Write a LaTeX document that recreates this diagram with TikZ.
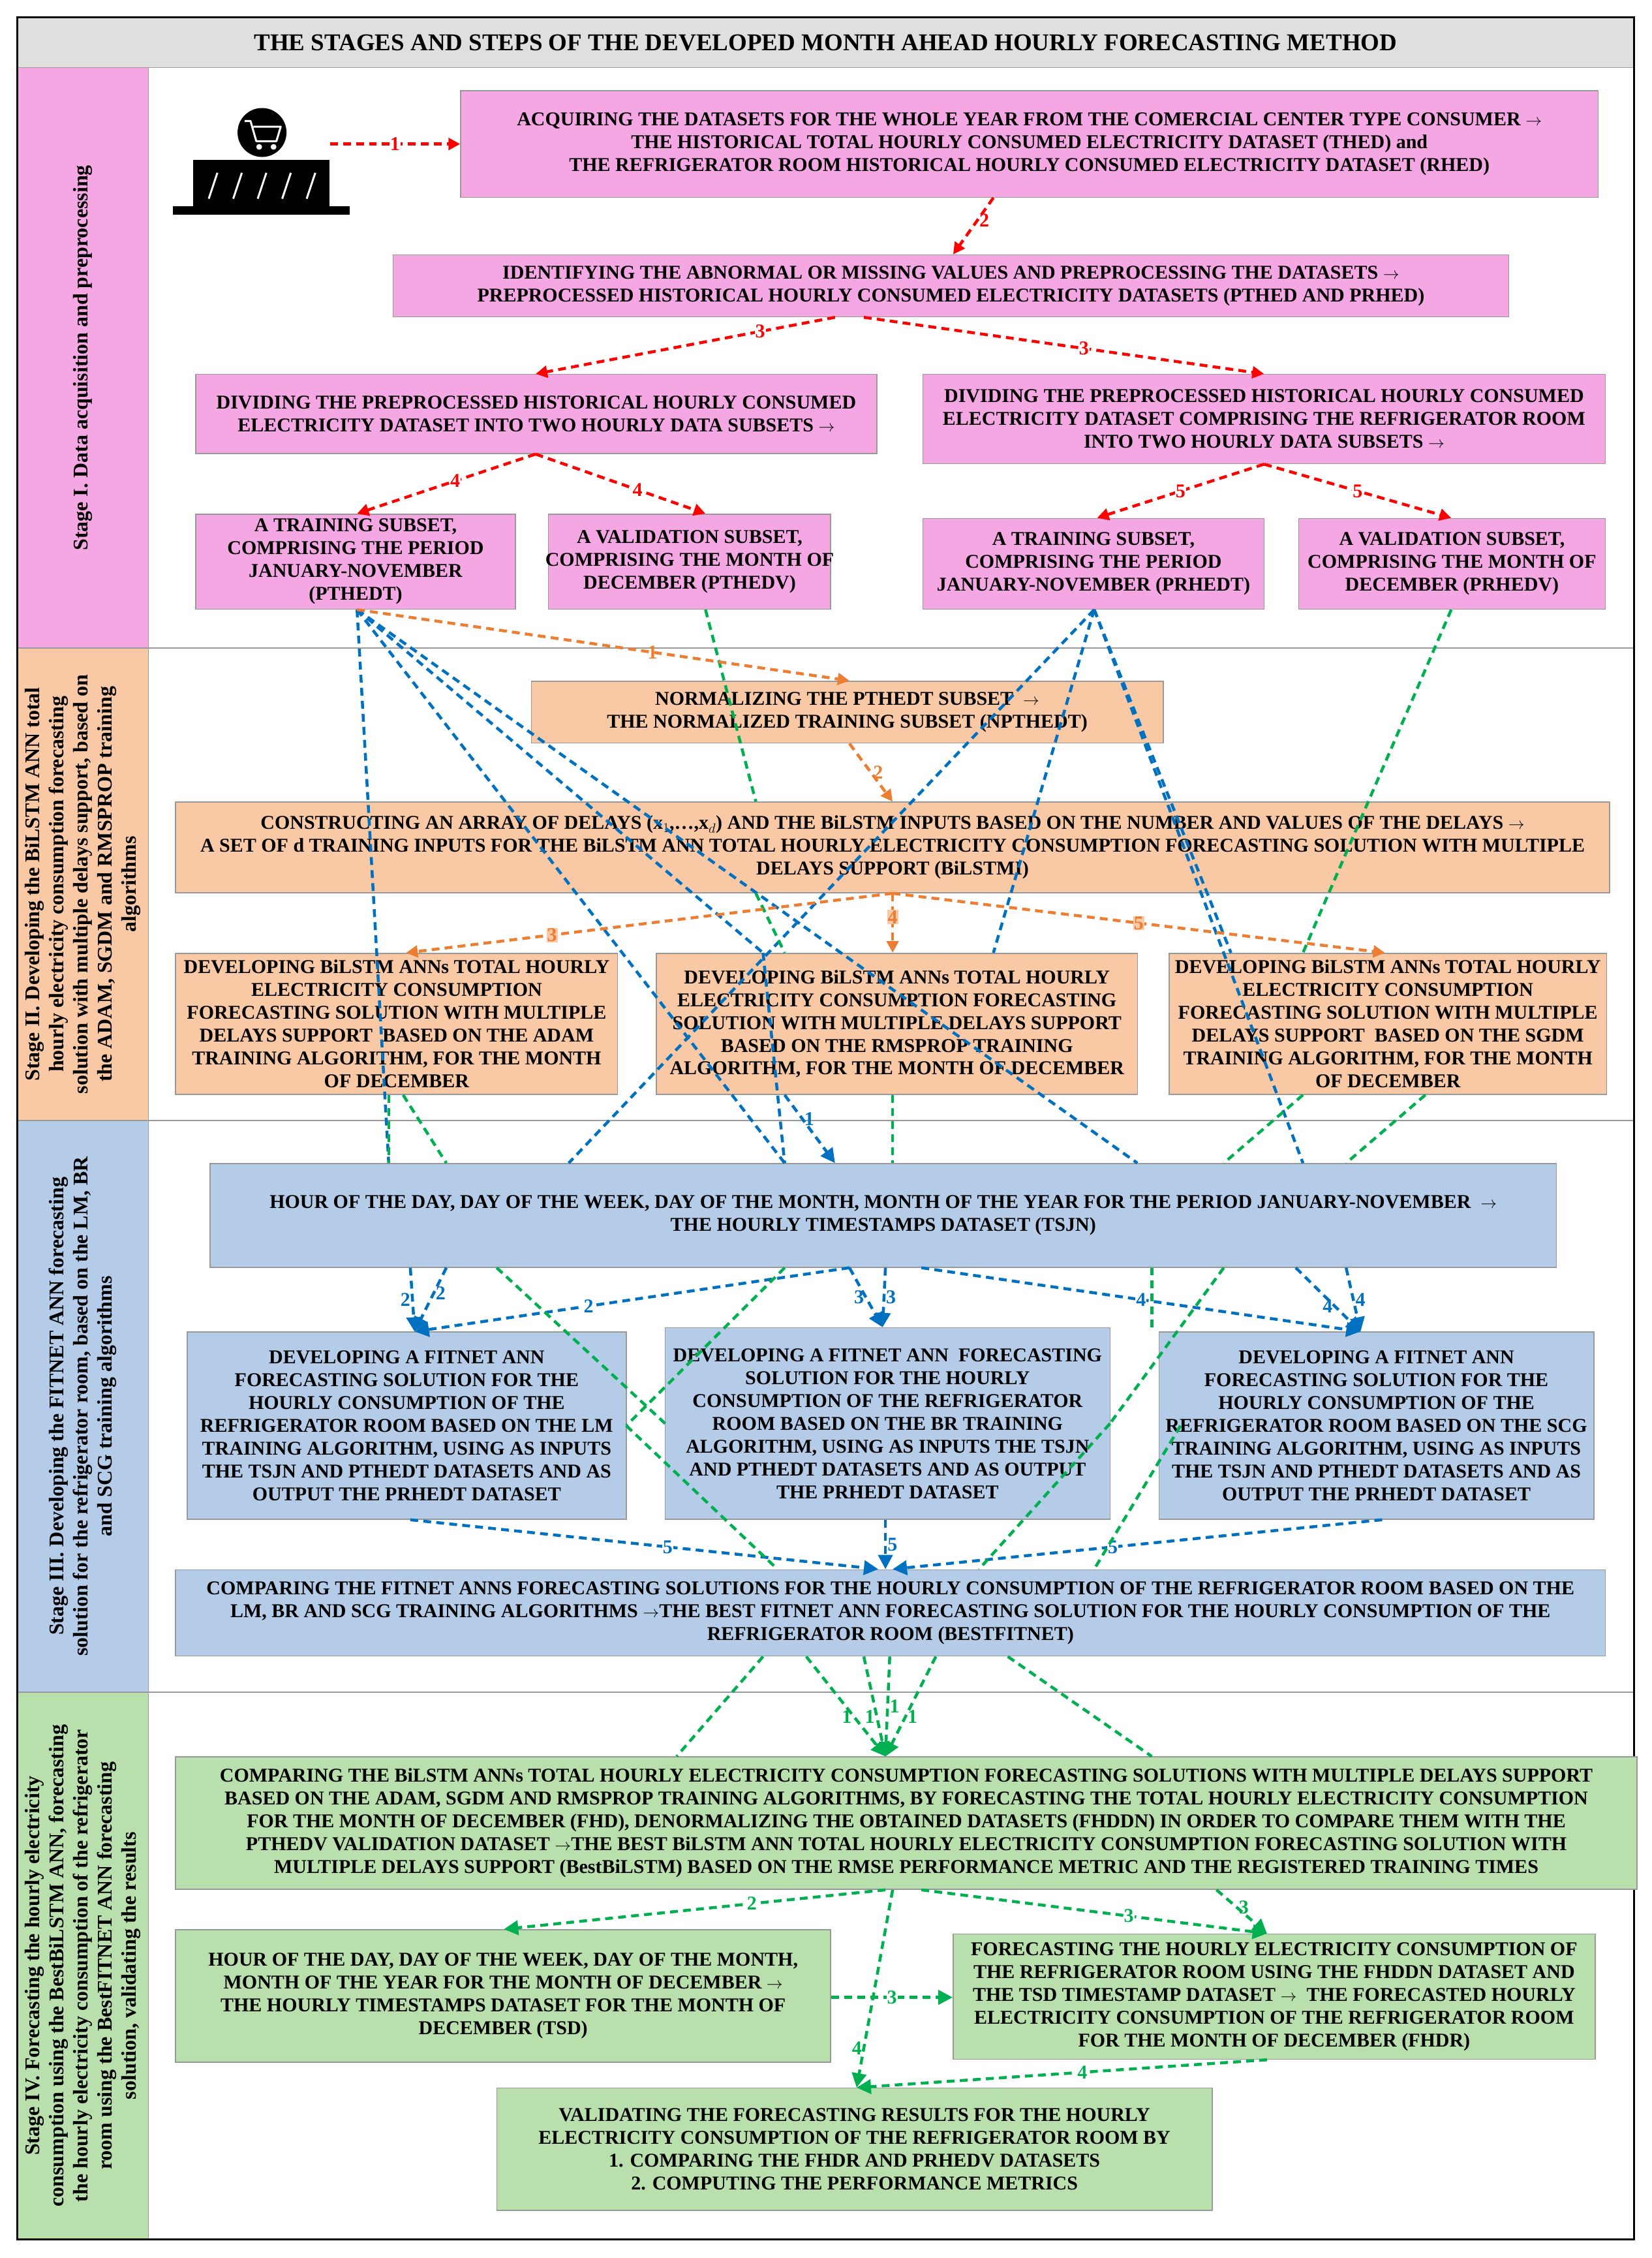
\documentclass[tikz,border=0pt]{standalone}
\usepackage{fontspec}
\setmainfont{Liberation Serif}
\usetikzlibrary{fit,arrows.meta,calc}
\definecolor{pinkc}{HTML}{F4A7E3}
\definecolor{orangec}{HTML}{F9C8A5}
\definecolor{bluec}{HTML}{B4CCE8}
\definecolor{greenc}{HTML}{B9DFAC}
\definecolor{redl}{HTML}{FF0000}
\definecolor{orangel}{HTML}{ED7D31}
\definecolor{bluel}{HTML}{0070C0}
\definecolor{greenl}{HTML}{00B050}
\newcommand{\ar}{$\rightarrow$}
\begin{document}
\begin{tikzpicture}[x=2.2075pt,y=-2.2075pt,
 box/.style={draw=gray!80,line width=1.5pt,inner sep=0pt},
 txt/.style={font=\fontsize{30}{35}\selectfont\bfseries,align=center,inner sep=0pt},
 side/.style={font=\fontsize{32}{37}\selectfont\bfseries,align=center,rotate=90},
 ln/.style={line width=4.5pt,dash pattern=on 12pt off 8pt},
 rl/.style={ln,redl,-{Triangle[length=18pt,width=18pt]}},
 ol/.style={ln,orangel,-{Triangle[length=18pt,width=18pt]}},
 bl/.style={ln,bluel},
 bla/.style={ln,bluel,-{Triangle[length=22pt,width=22pt]}},
 gl/.style={ln,greenl},
 gla/.style={ln,greenl,-{Triangle[length=22pt,width=22pt]}},
 lb/.style={font=\fontsize{30}{30}\selectfont\bfseries,inner sep=1pt}]
\useasboundingbox (0,0) rectangle (1147,1568);
% frame and bands
\node[box,fill=gray!25,fit={(12,12)(1135,47)}] (title) {};
\node[txt,font=\fontsize{37}{40}\selectfont\bfseries] (titlet) at (title) {THE STAGES AND STEPS OF THE DEVELOPED MONTH AHEAD HOURLY FORECASTING METHOD};
\node[box,fill=pinkc,fit={(12,47)(103,450)}] (s1) {};
\node[box,fill=orangec,fit={(12,450)(103,778)}] (s2) {};
\node[box,fill=bluec,fit={(12,778)(103,1175)}] (s3) {};
\node[box,fill=greenc,fit={(12,1175)(103,1555)}] (s4) {};
\node[box,fit={(103,47)(1135,450)}] (r1) {};
\node[box,fit={(103,450)(1135,778)}] (r2) {};
\node[box,fit={(103,778)(1135,1175)}] (r3) {};
\node[box,fit={(103,1175)(1135,1555)}] (r4) {};
\draw[line width=3pt] (12,12) rectangle (1135,1555);
\node[side] (s1t) at (s1) {Stage I. Data acquisition and preprocessing};
\node[side] (s2t) at (s2) {Stage II. Developing the BiLSTM ANN total\\ hourly electricity consumption forecasting\\ solution with multiple delays support, based on\\ the ADAM, SGDM and RMSPROP training\\ algorithms};
\node[side] (s3t) at (s3) {Stage III. Developing the FITNET ANN forecasting\\ solution for the refrigerator room, based on the LM, BR\\ and SCG training algorithms};
\node[side] (s4t) at (s4) {Stage IV. Forecasting the hourly electricity\\ consumption using the BestBiLSTM ANN, forecasting\\ the hourly electricity consumption of the refrigerator\\ room using the BestFITNET ANN forecasting\\ solution, validating the results};
% icon
\node[fill=black,inner sep=0pt,fit={(120,143)(243,149)}] (ib) {};
\node[fill=black,inner sep=0pt,fit={(134,111)(229,143)}] (ic) {};
\node[fill=black,circle,minimum size=34*2.2075pt,inner sep=0pt] (icart) at (182,92) {};
\foreach \x in {148,165,182,199,216}{\draw[white,line width=3pt] (\x-3,138) -- (\x+3,120);}
\draw[white,line width=3pt,line join=round] (170,84) -- (174,84) -- (178,98) -- (192,98) -- (195,88) -- (176,88);
\fill[white] (180,102) circle (2) (190,102) circle (2);
% Stage I boxes
\node[box,fill=pinkc,fit={(320,63)(1110,137)}] (a1) {};
\node[txt] (a1t) at (a1) {ACQUIRING THE DATASETS FOR THE WHOLE YEAR FROM THE COMERCIAL CENTER TYPE CONSUMER \ar\\ THE HISTORICAL TOTAL HOURLY CONSUMED ELECTRICITY DATASET (THED) and\\ THE REFRIGERATOR ROOM HISTORICAL HOURLY CONSUMED ELECTRICITY DATASET (RHED)};
\node[box,fill=pinkc,fit={(273,177)(1048,220)}] (a2) {};
\node[txt] (a2t) at (a2) {IDENTIFYING THE ABNORMAL OR MISSING VALUES AND PREPROCESSING THE DATASETS \ar\\ PREPROCESSED HISTORICAL HOURLY CONSUMED ELECTRICITY DATASETS (PTHED AND PRHED)};
\node[box,fill=pinkc,fit={(136,260)(609,315)}] (a3) {};
\node[txt] (a3t) at (a3) {DIVIDING THE PREPROCESSED HISTORICAL HOURLY CONSUMED\\ ELECTRICITY DATASET INTO TWO HOURLY DATA SUBSETS \ar};
\node[box,fill=pinkc,fit={(641,260)(1115,322)}] (a4) {};
\node[txt] (a4t) at (a4) {DIVIDING THE PREPROCESSED HISTORICAL HOURLY CONSUMED\\ ELECTRICITY DATASET COMPRISING THE REFRIGERATOR ROOM\\ INTO TWO HOURLY DATA SUBSETS \ar};
\node[box,fill=pinkc,fit={(136,357)(358,423)}] (a5) {};
\node[txt] (a5t) at (a5) {A TRAINING SUBSET,\\ COMPRISING THE PERIOD\\ JANUARY-NOVEMBER\\ (PTHEDT)};
\node[box,fill=pinkc,fit={(381,357)(577,423)}] (a6) {};
\node[txt] (a6t) at (a6) {A VALIDATION SUBSET,\\ COMPRISING THE MONTH OF\\ DECEMBER (PTHEDV)};
\node[box,fill=pinkc,fit={(641,360)(878,423)}] (a7) {};
\node[txt] (a7t) at (a7) {A TRAINING SUBSET,\\ COMPRISING THE PERIOD\\ JANUARY-NOVEMBER (PRHEDT)};
\node[box,fill=pinkc,fit={(902,360)(1115,423)}] (a8) {};
\node[txt] (a8t) at (a8) {A VALIDATION SUBSET,\\ COMPRISING THE MONTH OF\\ DECEMBER (PRHEDV)};
% Stage II boxes
\node[box,fill=orangec,fit={(369,473)(808,516)}] (b1) {};
\node[txt] (b1t) at (b1) {NORMALIZING THE PTHEDT SUBSET \ \ar\\ THE NORMALIZED TRAINING SUBSET (NPTHEDT)};
\node[box,fill=orangec,fit={(122,557)(1118,620)}] (b2) {};
\node[txt] (b2t) at (b2) {CONSTRUCTING AN ARRAY OF DELAYS (x$_{1}$,\dots,x$_{d}$) AND THE BiLSTM INPUTS BASED ON THE NUMBER AND VALUES OF THE DELAYS \ar\\ A SET OF d TRAINING INPUTS FOR THE BiLSTM ANN TOTAL HOURLY ELECTRICITY CONSUMPTION FORECASTING SOLUTION WITH MULTIPLE\\ DELAYS SUPPORT (BiLSTMI)};
\node[box,fill=orangec,fit={(122,662)(429,760)}] (b3) {};
\node[txt] (b3t) at (b3) {DEVELOPING BiLSTM ANNs TOTAL HOURLY\\ ELECTRICITY CONSUMPTION\\ FORECASTING SOLUTION WITH MULTIPLE\\ DELAYS SUPPORT \ BASED ON THE ADAM\\ TRAINING ALGORITHM, FOR THE MONTH\\ OF DECEMBER};
\node[box,fill=orangec,fit={(456,662)(790,760)}] (b4) {};
\node[txt] (b4t) at (b4) {DEVELOPING BiLSTM ANNs TOTAL HOURLY\\ ELECTRICITY CONSUMPTION FORECASTING\\ SOLUTION WITH MULTIPLE DELAYS SUPPORT\\ BASED ON THE RMSPROP TRAINING\\ ALGORITHM, FOR THE MONTH OF DECEMBER};
\node[box,fill=orangec,fit={(812,662)(1116,760)}] (b5) {};
\node[txt] (b5t) at (b5) {DEVELOPING BiLSTM ANNs TOTAL HOURLY\\ ELECTRICITY CONSUMPTION\\ FORECASTING SOLUTION WITH MULTIPLE\\ DELAYS SUPPORT \ BASED ON THE SGDM\\ TRAINING ALGORITHM, FOR THE MONTH\\ OF DECEMBER};
% Stage III boxes
\node[box,fill=bluec,fit={(146,808)(1081,880)}] (c1) {};
\node[txt] (c1t) at (c1) {HOUR OF THE DAY, DAY OF THE WEEK, DAY OF THE MONTH, MONTH OF THE YEAR FOR THE PERIOD JANUARY-NOVEMBER \ \ar\\ THE HOURLY TIMESTAMPS DATASET (TSJN)};
\node[box,fill=bluec,fit={(130,925)(435,1055)}] (c2) {};
\node[txt] (c2t) at (c2) {DEVELOPING A FITNET ANN\\ FORECASTING SOLUTION FOR THE\\ HOURLY CONSUMPTION OF THE\\ REFRIGERATOR ROOM BASED ON THE LM\\ TRAINING ALGORITHM, USING AS INPUTS\\ THE TSJN AND PTHEDT DATASETS AND AS\\ OUTPUT THE PRHEDT DATASET};
\node[box,fill=bluec,fit={(462,922)(771,1055)}] (c3) {};
\node[txt] (c3t) at (c3) {DEVELOPING A FITNET ANN \ FORECASTING\\ SOLUTION FOR THE HOURLY\\ CONSUMPTION OF THE REFRIGERATOR\\ ROOM BASED ON THE BR TRAINING\\ ALGORITHM, USING AS INPUTS THE TSJN\\ AND PTHEDT DATASETS AND AS OUTPUT\\ THE PRHEDT DATASET};
\node[box,fill=bluec,fit={(805,925)(1107,1055)}] (c4) {};
\node[txt] (c4t) at (c4) {DEVELOPING A FITNET ANN\\ FORECASTING SOLUTION FOR THE\\ HOURLY CONSUMPTION OF THE\\ REFRIGERATOR ROOM BASED ON THE SCG\\ TRAINING ALGORITHM, USING AS INPUTS\\ THE TSJN AND PTHEDT DATASETS AND AS\\ OUTPUT THE PRHEDT DATASET};
\node[box,fill=bluec,fit={(122,1090)(1115,1150)}] (c5) {};
\node[txt] (c5t) at (c5) {COMPARING THE FITNET ANNS FORECASTING SOLUTIONS FOR THE HOURLY CONSUMPTION OF THE REFRIGERATOR ROOM BASED ON THE\\ LM, BR AND SCG TRAINING ALGORITHMS \ar THE BEST FITNET ANN FORECASTING SOLUTION FOR THE HOURLY CONSUMPTION OF THE\\ REFRIGERATOR ROOM (BESTFITNET)};
% Stage IV boxes
\node[box,fill=greenc,fit={(122,1220)(1137,1312)}] (d1) {};
\node[txt] (d1t) at (d1) {COMPARING THE BiLSTM ANNs TOTAL HOURLY ELECTRICITY CONSUMPTION FORECASTING SOLUTIONS WITH MULTIPLE DELAYS SUPPORT\\ BASED ON THE ADAM, SGDM AND RMSPROP TRAINING ALGORITHMS, BY FORECASTING THE TOTAL HOURLY ELECTRICITY CONSUMPTION\\ FOR THE MONTH OF DECEMBER (FHD), DENORMALIZING THE OBTAINED DATASETS (FHDDN) IN ORDER TO COMPARE THEM WITH THE\\ PTHEDV VALIDATION DATASET \ar THE BEST BiLSTM ANN TOTAL HOURLY ELECTRICITY CONSUMPTION FORECASTING SOLUTION WITH\\ MULTIPLE DELAYS SUPPORT (BestBiLSTM) BASED ON THE RMSE PERFORMANCE METRIC AND THE REGISTERED TRAINING TIMES};
\node[box,fill=greenc,fit={(122,1340)(577,1432)}] (d2) {};
\node[txt] (d2t) at (d2) {HOUR OF THE DAY, DAY OF THE WEEK, DAY OF THE MONTH,\\ MONTH OF THE YEAR FOR THE MONTH OF DECEMBER \ar\\ THE HOURLY TIMESTAMPS DATASET FOR THE MONTH OF\\ DECEMBER (TSD)};
\node[box,fill=greenc,fit={(662,1343)(1108,1430)}] (d3) {};
\node[txt] (d3t) at (d3) {FORECASTING THE HOURLY ELECTRICITY CONSUMPTION OF\\ THE REFRIGERATOR ROOM USING THE FHDDN DATASET AND\\ THE TSD TIMESTAMP DATASET \ar \ \ THE FORECASTED HOURLY\\ ELECTRICITY CONSUMPTION OF THE REFRIGERATOR ROOM\\ FOR THE MONTH OF DECEMBER (FHDR)};
\node[box,fill=greenc,fit={(345,1450)(842,1535)}] (d4) {};
\node[txt] (d4t) at (d4) {VALIDATING THE FORECASTING RESULTS FOR THE HOURLY\\ ELECTRICITY CONSUMPTION OF THE REFRIGERATOR ROOM BY\\ 1. COMPARING THE FHDR AND PRHEDV DATASETS\\ 2. COMPUTING THE PERFORMANCE METRICS};
% red connectors
\draw[rl] (ic.east |- 0,100) -- node[lb,redl,fill=white] {1} (a1.west |- 0,100);
\draw[rl] (690,0 |- a1.south) -- node[lb,redl,right,pos=0.4] {2} (662,0 |- a2.north);
\draw[rl] (580,0 |- a2.south) -- node[lb,redl,pos=0.25,fill=white] {3} (372,0 |- a3.north);
\draw[rl] (600,0 |- a2.south) -- node[lb,redl,pos=0.55,fill=white] {3} (878,0 |- a4.north);
\draw[rl] (372,0 |- a3.south) -- node[lb,redl,pos=0.45,fill=white] {4} (248,0 |- a5.north);
\draw[rl] (372,0 |- a3.south) -- node[lb,redl,pos=0.6,fill=white] {4} (490,0 |- a6.north);
\draw[rl] (878,0 |- a4.south) -- node[lb,redl,pos=0.5,fill=white] {5} (762,0 |- a7.north);
\draw[rl] (878,0 |- a4.south) -- node[lb,redl,pos=0.5,fill=white] {5} (1008,0 |- a8.north);
% blue lines across stage I-II
\draw[bl] (248,0 |- a5.south) -- (270,0 |- c1.north);
\draw[bl] (248,0 |- a5.south) -- (530,0 |- b4.north);
\draw[bl] (248,0 |- a5.south) -- (545,0 |- c1.north);
\draw[bl] (248,0 |- a5.south) -- (790,0 |- c1.north);
\draw[bl] (760,0 |- a7.south) -- (395,0 |- c1.north);
\draw[bl] (760,0 |- a7.south) -- (690,0 |- b4.north);
\draw[bl] (760,0 |- a7.south) -- (905,0 |- c1.north);
\draw[bl] (760,0 |- a7.south) -- (855,0 |- b5.north);
\draw[bl] (530,0 |- b4.north) -- (545,0 |- c1.north);
\draw[bla] (545,0 |- b4.south) -- node[lb,bluel,right,pos=0.35] {1} (580,0 |- c1.north);
% green lines stage I-II
\draw[gl] (490,0 |- a6.south) -- (525,0 |- b2.north);
\draw[gl] (525,0 |- b2.south) -- (545,0 |- b4.north);
\draw[gl] (1008,0 |- a8.south) -- (905,0 |- b5.north);
\draw[gl] (905,0 |- b5.south) -- (850,0 |- c1.north);
\draw[gl] (990,0 |- b5.south) -- (935,0 |- c1.north);
\draw[gl] (280,0 |- b3.south) -- (310,0 |- c1.north);
\draw[gl] (620,0 |- b4.south) -- (620,0 |- c1.north);
\draw[gl] (270,0 |- b3.south) -- (270,0 |- c1.north);
% orange connectors
\draw[ol] (248,0 |- a5.south) -- node[lb,orangel,pos=0.6] {1} (590,0 |- b1.north);
\draw[ol] (590,0 |- b1.south) -- node[lb,orangel,right,pos=0.5] {2} (620,0 |- b2.north);
\draw[ol] (620,0 |- b2.south) -- node[lb,orangel,pos=0.7,fill=orangec] {3} (282,0 |- b3.north);
\draw[ol] (620,0 |- b2.south) -- node[lb,orangel,pos=0.4,fill=orangec] {4} (620,0 |- b4.north);
\draw[ol] (620,0 |- b2.south) -- node[lb,orangel,pos=0.5,fill=orangec] {5} (962,0 |- b5.north);
% stage III blue
\draw[bla] (285,0 |- c1.south) -- node[lb,bluel,left,pos=0.5] {2} (288,0 |- c2.north);
\draw[bla] (310,0 |- c1.south) -- node[lb,bluel,right,pos=0.4] {2} (288,0 |- c2.north);
\draw[bla] (590,0 |- c1.south) -- node[lb,bluel,pos=0.6,fill=white] {2} (288,0 |- c2.north);
\draw[bla] (590,0 |- c1.south) -- node[lb,bluel,left,pos=0.5] {3} (613,0 |- c3.north);
\draw[bla] (615,0 |- c1.south) -- node[lb,bluel,right,pos=0.5] {3} (613,0 |- c3.north);
\draw[bla] (640,0 |- c1.south) -- node[lb,bluel,pos=0.5,fill=white] {4} (945,0 |- c4.north);
\draw[bla] (900,0 |- c1.south) -- node[lb,bluel,left,pos=0.6] {4} (945,0 |- c4.north);
\draw[bla] (935,0 |- c1.south) -- node[lb,bluel,right,pos=0.5] {4} (945,0 |- c4.north);
\draw[bla] (285,0 |- c2.south) -- node[lb,bluel,pos=0.55,fill=white] {5} (610,0 |- c5.north);
\draw[bla] (615,0 |- c3.south) -- node[lb,bluel,right,pos=0.5] {5} (615,0 |- c5.north);
\draw[bla] (960,0 |- c4.south) -- node[lb,bluel,pos=0.55,fill=white] {5} (620,0 |- c5.north);
% stage III green
\draw[gl] (345,0 |- c1.south) -- (462,0 |- c3.west);
\draw[gl] (545,0 |- c1.south) -- (435,0 |- c2.east);
\draw[gl] (850,0 |- c1.south) -- (771,0 |- c3.east);
\draw[gl] (800,0 |- c3.north) -- (800,0 |- c1.south);
\draw[gl] (435,0 |- c2.east) -- (540,0 |- c5.north);
\draw[gl] (771,0 |- c3.east) -- (680,0 |- c5.north);
\draw[gl] (820,0 |- c4.west) -- (760,0 |- c5.north);
% stage III -> IV
\draw[gla] (560,0 |- c5.south) -- node[lb,greenl,left,pos=0.6] {1} (615,0 |- d1.north);
\draw[gla] (600,0 |- c5.south) -- node[lb,greenl,left,pos=0.6] {1} (615,0 |- d1.north);
\draw[gla] (618,0 |- c5.south) -- node[lb,greenl,right,pos=0.5] {1} (615,0 |- d1.north);
\draw[gla] (650,0 |- c5.south) -- node[lb,greenl,right,pos=0.6] {1} (615,0 |- d1.north);
\draw[gl] (700,0 |- c5.south) -- (800,0 |- d1.north);
\draw[gl] (530,0 |- c5.south) -- (470,0 |- d1.north);
% stage IV
\draw[gla] (615,0 |- d1.south) -- node[lb,greenl,pos=0.35,fill=white] {2} (350,0 |- d2.north);
\draw[gla] (640,0 |- d1.south) -- node[lb,greenl,pos=0.6,fill=white] {3} (880,0 |- d3.north);
\draw[gla] (845,0 |- d1.south) -- node[lb,greenl,right,pos=0.4] {3} (880,0 |- d3.north);
\draw[gla] (d2.east |- 0,1387) -- node[lb,greenl,fill=white] {3} (d3.west |- 0,1387);
\draw[gla] (620,0 |- d1.south) -- node[lb,greenl,left,pos=0.8] {4} (595,0 |- d4.north);
\draw[gla] (880,0 |- d3.south) -- node[lb,greenl,pos=0.45,fill=white] {4} (595,0 |- d4.north);
\end{tikzpicture}
\end{document}
